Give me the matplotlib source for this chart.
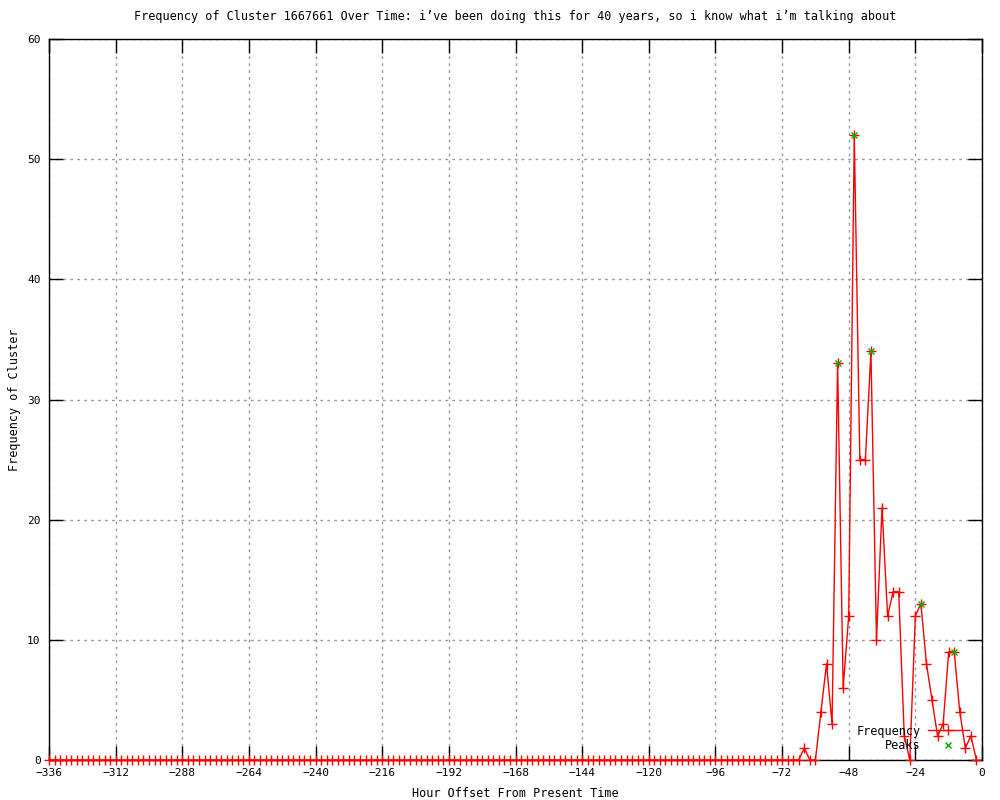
import numpy as np
import matplotlib.pyplot as plt

plt.rcParams['font.family'] = ['DejaVu Sans Mono']

# hours before now, every 2 hours
hours = np.arange(-336, 0, 2)

# -336 .. -70 all zero, then the active part from -68 to -2
freq_quiet = [0] * 134
freq_active = [0, 0, 1, 0, 0, 4, 8, 3, 33, 6, 12, 52, 25, 25, 34, 10, 21, 12,
               14, 14, 2, 0, 12, 13, 8, 5, 2, 3, 9, 9, 4, 1, 2, 0]
freq = np.array(freq_quiet + freq_active)

peak_hours = [-52, -46, -40, -22, -10]
peak_vals = [33, 52, 34, 13, 9]

fig = plt.figure(figsize=(10, 8), dpi=100)
ax = fig.add_axes([0.049, 0.05, 0.933, 0.90125])

ax.plot(
    hours,
    freq,
    color='red',
    linewidth=1,
    marker='+',
    markersize=6.5,
    markeredgewidth=1,
    label='Frequency',
    clip_on=False,
    zorder=3
)
ax.plot(
    peak_hours,
    peak_vals,
    linestyle='none',
    color='#00b000',
    marker='x',
    markersize=5,
    markeredgewidth=1,
    label='Peaks',
    zorder=4
)

ax.set_xlim(-336, 0)
ax.set_ylim(0, 60)
ax.set_xticks(np.arange(-336, 1, 24))
ax.set_yticks(np.arange(0, 61, 10))
ax.tick_params(direction='in', length=10, width=1, top=True, right=True,
               labelsize=8, pad=6)
ax.grid(True, linestyle=(0, (2, 3)), color='#999999', linewidth=1)
for s in ax.spines.values():
    s.set_linewidth(1)

ax.set_title("Frequency of Cluster 1667661 Over Time: i\u2019ve been doing this for 40 years, "
             "so i know what i\u2019m talking about", fontsize=8.5, pad=14)
ax.set_xlabel('Hour Offset From Present Time', fontsize=8.5)
ax.set_ylabel('Frequency of Cluster', fontsize=8.5)
ax.xaxis.set_label_coords(0.5, -0.037)
ax.yaxis.set_label_coords(-0.030, 0.5)

leg = ax.legend(loc='lower right', frameon=False, markerfirst=False,
                fontsize=8.5, handlelength=3.5, borderaxespad=0.3,
                labelspacing=0.1, handletextpad=0.6,
                bbox_to_anchor=(0.995, 0.0))
for t in leg.get_texts():
    t.set_ha('right')

fig.savefig('out.png', dpi=100)
